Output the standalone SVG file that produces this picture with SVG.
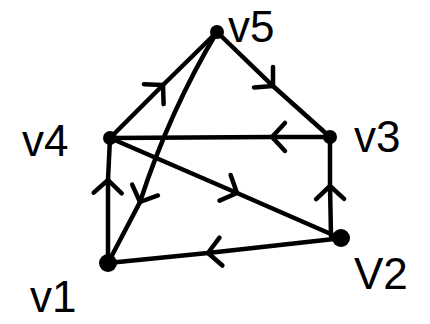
<svg xmlns="http://www.w3.org/2000/svg" width="430" height="324" viewBox="0 0 430 324">
<style>
.e{fill:none;stroke:#000;stroke-width:4.5;stroke-linecap:round;marker-mid:url(#chev)}
.n{fill:#000}
.l{font-family:"Liberation Sans",Arial,sans-serif;font-size:44px;fill:#000}
</style>
<defs>
<marker id="chev" markerUnits="userSpaceOnUse" markerWidth="40" markerHeight="40" viewBox="-20 -20 40 40" refX="0" refY="0" orient="auto" overflow="visible">
<path d="M-13 -14 L0 0 L-13 14" fill="none" stroke="#000" stroke-width="4.5" stroke-linecap="round" stroke-linejoin="round"/>
</marker>
</defs>
<rect width="430" height="324" fill="#fff"/>
<g id="edges">
<path class="e" d="M110 138 L163 85 L217 32"/>
<path class="e" d="M217 32 L273 86 L330 137"/>
<path class="e" d="M330 137 L272 137 L110 138"/>
<path class="e" d="M110 138 L237 193 L340 238"/>
<path class="e" d="M331 236 L330 186 L330 137"/>
<path class="e" d="M108 263 L108 180 L110 138"/>
<path class="e" d="M217 32 Q170 110 140 202 L108 263"/>
<path class="e" d="M343 238 L208 253 L108 263"/>
</g>
<g id="v5"><circle class="n" cx="217" cy="32" r="7"/><text class="l" x="228" y="42">v5</text></g>
<g id="v4"><circle class="n" cx="110" cy="138" r="7"/><text class="l" x="22" y="156">v4</text></g>
<g id="v3"><circle class="n" cx="330" cy="137" r="7"/><text class="l" x="354" y="152">v3</text></g>
<g id="v2"><circle class="n" cx="341" cy="238" r="9"/><text class="l" x="354" y="289">V2</text></g>
<g id="v1"><circle class="n" cx="108" cy="263" r="9"/><text class="l" x="30" y="312">v1</text></g>
</svg>
